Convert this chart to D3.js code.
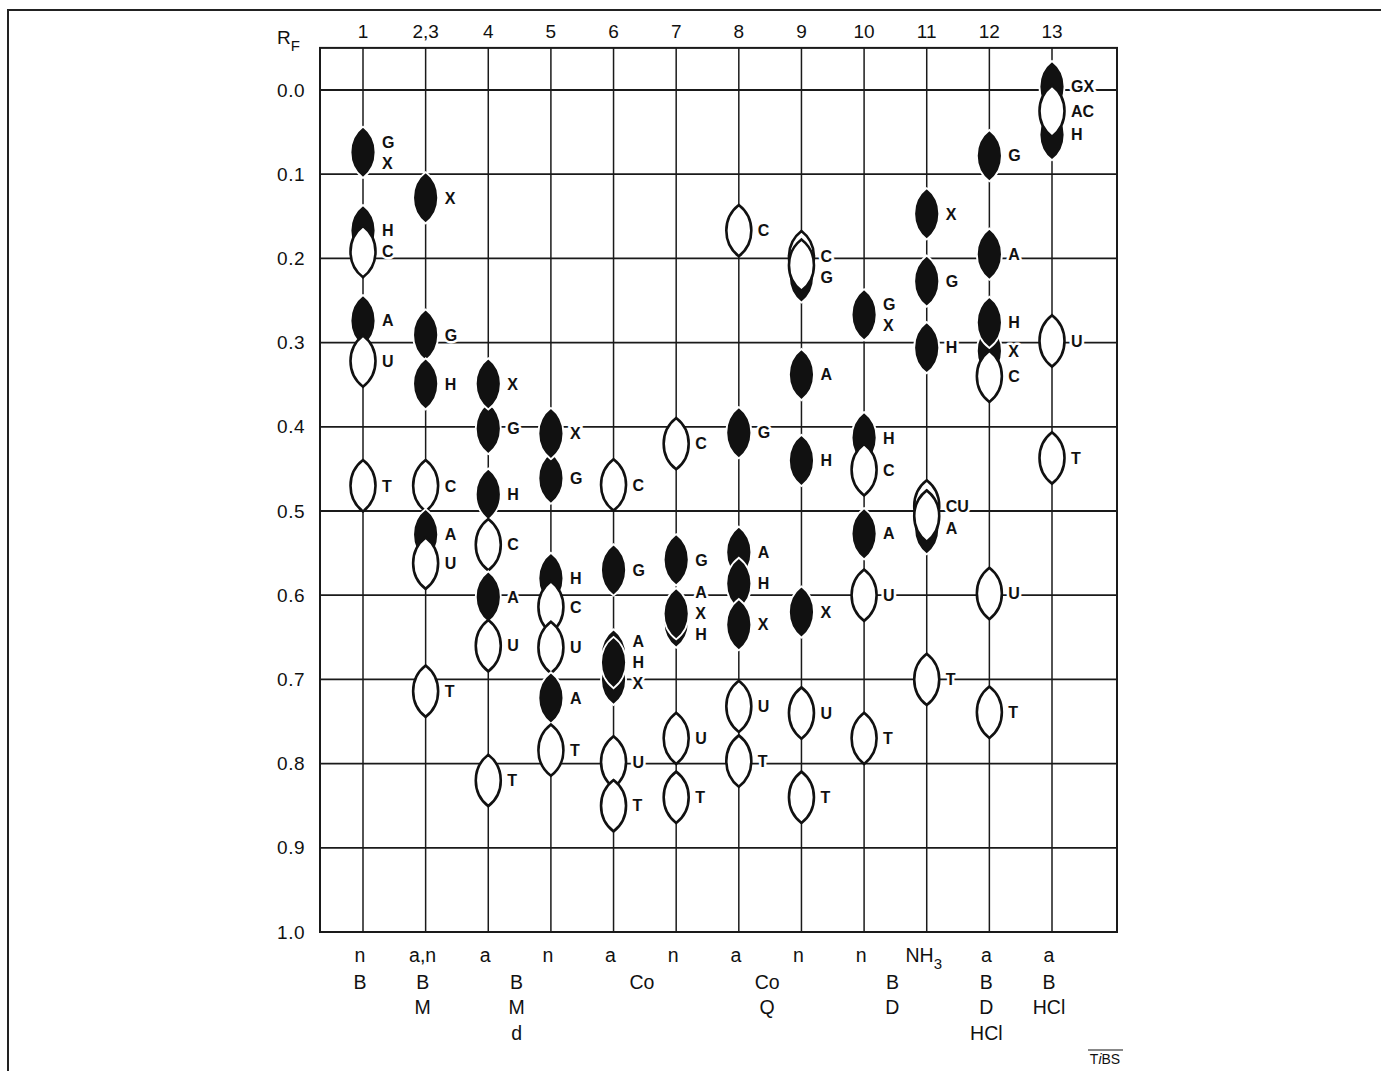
<!DOCTYPE html>
<html>
<head>
  <meta http-equiv="content-type" content="text/html; charset=UTF-8">
  <title>RF chart</title>
  <script type="text/javascript" src="https://cdn.jsdelivr.net/npm/d3@7"></script>
  <style type="text/css">
    body { margin: 0; background: #fff; }
    text { font-family: "Liberation Sans", Arial, Helvetica, sans-serif; fill: #111; }
    .spotlabel { font-weight: bold; font-size: 16px; stroke: #fff; stroke-width: 5px; paint-order: stroke; stroke-linejoin: round; }
  </style>
</head>
<body>

<div id="chart"></div>

<script type="text/javascript">

  // lanes across the top
  var lanes = ['1', '2,3', '4', '5', '6', '7', '8', '9', '10', '11', '12', '13'];
  var rfTicks = [0, 0.1, 0.2, 0.3, 0.4, 0.5, 0.6, 0.7, 0.8, 0.9, 1.0];
  var gridRf = [0, 0.1, 0.2, 0.3, 0.4, 0.5, 0.6, 0.7, 0.8, 0.9];

  // spots per lane: [label, RF, kind]   kind: f = filled, o = open
  // order is drawing order ('/' in a label stacks the letters)
  var lane1  = [['G/X', 0.074, 'f'], ['H', 0.167, 'f'], ['C', 0.192, 'o'], ['A', 0.274, 'f'], ['U', 0.322, 'o'], ['T', 0.470, 'o']];
  var lane23 = [['X', 0.128, 'f'], ['G', 0.291, 'f'], ['H', 0.349, 'f'], ['C', 0.470, 'o'], ['A', 0.528, 'f'], ['U', 0.562, 'o'], ['T', 0.714, 'o']];
  var lane4  = [['G', 0.402, 'f'], ['X', 0.349, 'f'], ['H', 0.480, 'f'], ['C', 0.540, 'o'], ['A', 0.602, 'f'], ['U', 0.660, 'o'], ['T', 0.820, 'o']];
  var lane5  = [['G', 0.461, 'f'], ['X', 0.408, 'f'], ['H', 0.580, 'f'], ['C', 0.614, 'o'], ['U', 0.662, 'o'], ['A', 0.722, 'f'], ['T', 0.784, 'o']];
  var lane6  = [['C', 0.469, 'o'], ['G', 0.570, 'f'], ['', 0.671, 'f'], ['', 0.700, 'f'], ['A/H/X', 0.680, 'f'], ['U', 0.798, 'o'], ['T', 0.850, 'o']];
  var lane7  = [['C', 0.420, 'o'], ['G', 0.558, 'f'], ['', 0.632, 'f'], ['A/X/H', 0.622, 'f'], ['U', 0.770, 'o'], ['T', 0.840, 'o']];
  var lane8  = [['C', 0.167, 'o'], ['G', 0.407, 'f'], ['A', 0.549, 'f'], ['H', 0.586, 'f'], ['X', 0.635, 'f'], ['U', 0.732, 'o'], ['T', 0.797, 'o']];
  var lane9  = [['G', 0.222, 'f'], ['C', 0.198, 'o'], ['', 0.208, 'o'], ['A', 0.338, 'f'], ['H', 0.440, 'f'], ['X', 0.620, 'f'], ['U', 0.740, 'o'], ['T', 0.840, 'o']];
  var lane10 = [['G/X', 0.267, 'f'], ['H', 0.413, 'f'], ['C', 0.451, 'o'], ['A', 0.527, 'f'], ['U', 0.600, 'o'], ['T', 0.770, 'o']];
  var lane11 = [['X', 0.147, 'f'], ['G', 0.227, 'f'], ['H', 0.306, 'f'], ['A', 0.521, 'f'], ['CU', 0.494, 'o'], ['', 0.506, 'o'], ['T', 0.700, 'o']];
  var lane12 = [['G', 0.078, 'f'], ['A', 0.195, 'f'], ['X', 0.310, 'f'], ['H', 0.276, 'f'], ['C', 0.340, 'o'], ['U', 0.598, 'o'], ['T', 0.739, 'o']];
  var lane13 = [['GX', -0.004, 'f'], ['H', 0.053, 'f'], ['AC', 0.025, 'o'], ['U', 0.298, 'o'], ['T', 0.437, 'o']];

  var spotLanes = [lane1, lane23, lane4, lane5, lane6, lane7, lane8, lane9, lane10, lane11, lane12, lane13];

  // conditions under each lane, then the reagent groups below
  var conditions = ['n', 'a,n', 'a', 'n', 'a', 'n', 'a', 'n', 'n', 'NH3', 'a', 'a'];
  var reagentGroups = [
    {lanes: ['1'], lines: ['B']},
    {lanes: ['2,3'], lines: ['B', 'M']},
    {lanes: ['4', '5'], lines: ['B', 'M', 'd']},
    {lanes: ['6', '7'], lines: ['Co']},
    {lanes: ['8', '9'], lines: ['Co', 'Q']},
    {lanes: ['10', '11'], lines: ['B', 'D']},
    {lanes: ['12'], lines: ['B', 'D', 'HCl']},
    {lanes: ['13'], lines: ['B', 'HCl']}
  ];

  var W = 1381, H = 1071;
  var left = 320, right = 1117;

  var svg = d3.select('#chart').append('svg')
      .attr('width', W)
      .attr('height', H);

  // outer frame (only top and left edges are in view)
  svg.append('rect')
      .attr('x', 8).attr('y', 10)
      .attr('width', 1400).attr('height', 1100)
      .attr('fill', 'none')
      .attr('stroke', '#222')
      .attr('stroke-width', 2);

  var x = d3.scalePoint().domain(lanes).range([363, 1052]);
  var y = d3.scaleLinear().domain([0, 1]).range([90, 932]);

  var spotH = y(0.061) - y(0);
  var spotW = 25;

  // grid
  var grid = svg.append('g').attr('stroke', '#1a1a1a').attr('fill', 'none');

  grid.selectAll('line.h')
      .data(gridRf)
      .enter().append('line')
      .attr('class', 'h')
      .attr('x1', left).attr('x2', right)
      .attr('y1', function(d){ return y(d); })
      .attr('y2', function(d){ return y(d); })
      .attr('stroke-width', 1.8);

  grid.append('rect')
      .attr('x', left).attr('y', y(-0.05))
      .attr('width', right - left)
      .attr('height', y(1) - y(-0.05))
      .attr('stroke-width', 2);

  grid.selectAll('line.v')
      .data(lanes)
      .enter().append('line')
      .attr('class', 'v')
      .attr('x1', function(d){ return x(d); })
      .attr('x2', function(d){ return x(d); })
      .attr('y1', y(-0.05)).attr('y2', y(1))
      .attr('stroke-width', 1.5);

  // y axis labels
  svg.selectAll('text.tick')
      .data(rfTicks)
      .enter().append('text')
      .attr('class', 'tick')
      .attr('x', 305)
      .attr('y', function(d){ return y(d); })
      .attr('dy', '0.35em')
      .attr('text-anchor', 'end')
      .style('font-size', '19px')
      .style('letter-spacing', '0.5px')
      .text(function(d){ return d.toFixed(1); });

  var rf = svg.append('text')
      .attr('x', 277).attr('y', 44)
      .style('font-size', '19px');
  rf.append('tspan').text('R');
  rf.append('tspan').attr('dy', 7).style('font-size', '15px').text('F');

  // lane numbers on top
  svg.selectAll('text.lane')
      .data(lanes)
      .enter().append('text')
      .attr('class', 'lane')
      .attr('x', function(d){ return x(d); })
      .attr('y', 31)
      .attr('dy', '0.35em')
      .attr('text-anchor', 'middle')
      .style('font-size', '19px')
      .text(function(d){ return d; });

  // pointed oval spot
  function lens(cx, cy){
    var c = spotH / 2, a = spotW / 2 / 0.75;
    return 'M' + cx + ',' + (cy - c) +
        'C' + (cx + a) + ',' + (cy - c * 0.5) + ' ' + (cx + a) + ',' + (cy + c * 0.5) + ' ' + cx + ',' + (cy + c) +
        'C' + (cx - a) + ',' + (cy + c * 0.5) + ' ' + (cx - a) + ',' + (cy - c * 0.5) + ' ' + cx + ',' + (cy - c) + 'Z';
  }

  var spots = [];
  spotLanes.forEach(function(list, i){
    list.forEach(function(s){
      spots.push({lane: lanes[i], label: s[0], rf: s[1], kind: s[2]});
    });
  });

  svg.append('g').selectAll('path.spot')
      .data(spots)
      .enter().append('path')
      .attr('class', 'spot')
      .attr('d', function(d){ return lens(x(d.lane), y(d.rf)); })
      .attr('fill', function(d){ return d.kind == 'f' ? '#111' : '#fff'; })
      .attr('stroke', function(d){ return d.kind == 'f' ? '#fff' : '#111'; })
      .attr('stroke-width', function(d){ return d.kind == 'f' ? 1.8 : 2.6; });

  // spot letters
  var labels = svg.append('g').selectAll('text.spotlabel')
      .data(spots.filter(function(d){ return d.label; }))
      .enter().append('text')
      .attr('class', 'spotlabel')
      .attr('x', function(d){ return x(d.lane) + 19; })
      .attr('y', function(d){ return y(d.rf); });

  labels.each(function(d){
    var parts = d.label.split('/');
    var step = 21;
    var t = d3.select(this);
    parts.forEach(function(p, k){
      t.append('tspan')
          .attr('x', x(d.lane) + 19)
          .attr('y', y(d.rf) + (k - (parts.length - 1) / 2) * step)
          .attr('dy', '0.36em')
          .text(p);
    });
  });

  // conditions row
  var cond = svg.selectAll('text.cond')
      .data(conditions)
      .enter().append('text')
      .attr('class', 'cond')
      .attr('x', function(d, i){ return x(lanes[i]) - 3; })
      .attr('y', 955)
      .attr('dy', '0.35em')
      .attr('text-anchor', 'middle')
      .style('font-size', '19.5px');

  cond.each(function(d){
    var t = d3.select(this);
    var m = d.match(/^([A-Za-z]+)(\d+)$/);
    if (m) {
      t.append('tspan').text(m[1]);
      t.append('tspan').attr('dy', 7).style('font-size', '15px').text(m[2]);
    } else {
      t.text(d);
    }
  });

  // reagent groups
  reagentGroups.forEach(function(g){
    var gx = d3.mean(g.lanes, function(l){ return x(l); }) - 3;
    g.lines.forEach(function(line, k){
      svg.append('text')
          .attr('x', gx)
          .attr('y', 982 + k * 25.5)
          .attr('dy', '0.35em')
          .attr('text-anchor', 'middle')
          .style('font-size', '19.5px')
          .text(line);
    });
  });

  // journal mark
  var mark = svg.append('text')
      .attr('x', 1105).attr('y', 1064)
      .attr('text-anchor', 'middle')
      .style('font-size', '14px');
  mark.append('tspan').text('T');
  mark.append('tspan').style('font-style', 'italic').text('i');
  mark.append('tspan').text('BS');
  svg.append('line')
      .attr('x1', 1088).attr('x2', 1123)
      .attr('y1', 1050).attr('y2', 1050)
      .attr('stroke', '#111').attr('stroke-width', 1);

</script>

</body>
</html>
